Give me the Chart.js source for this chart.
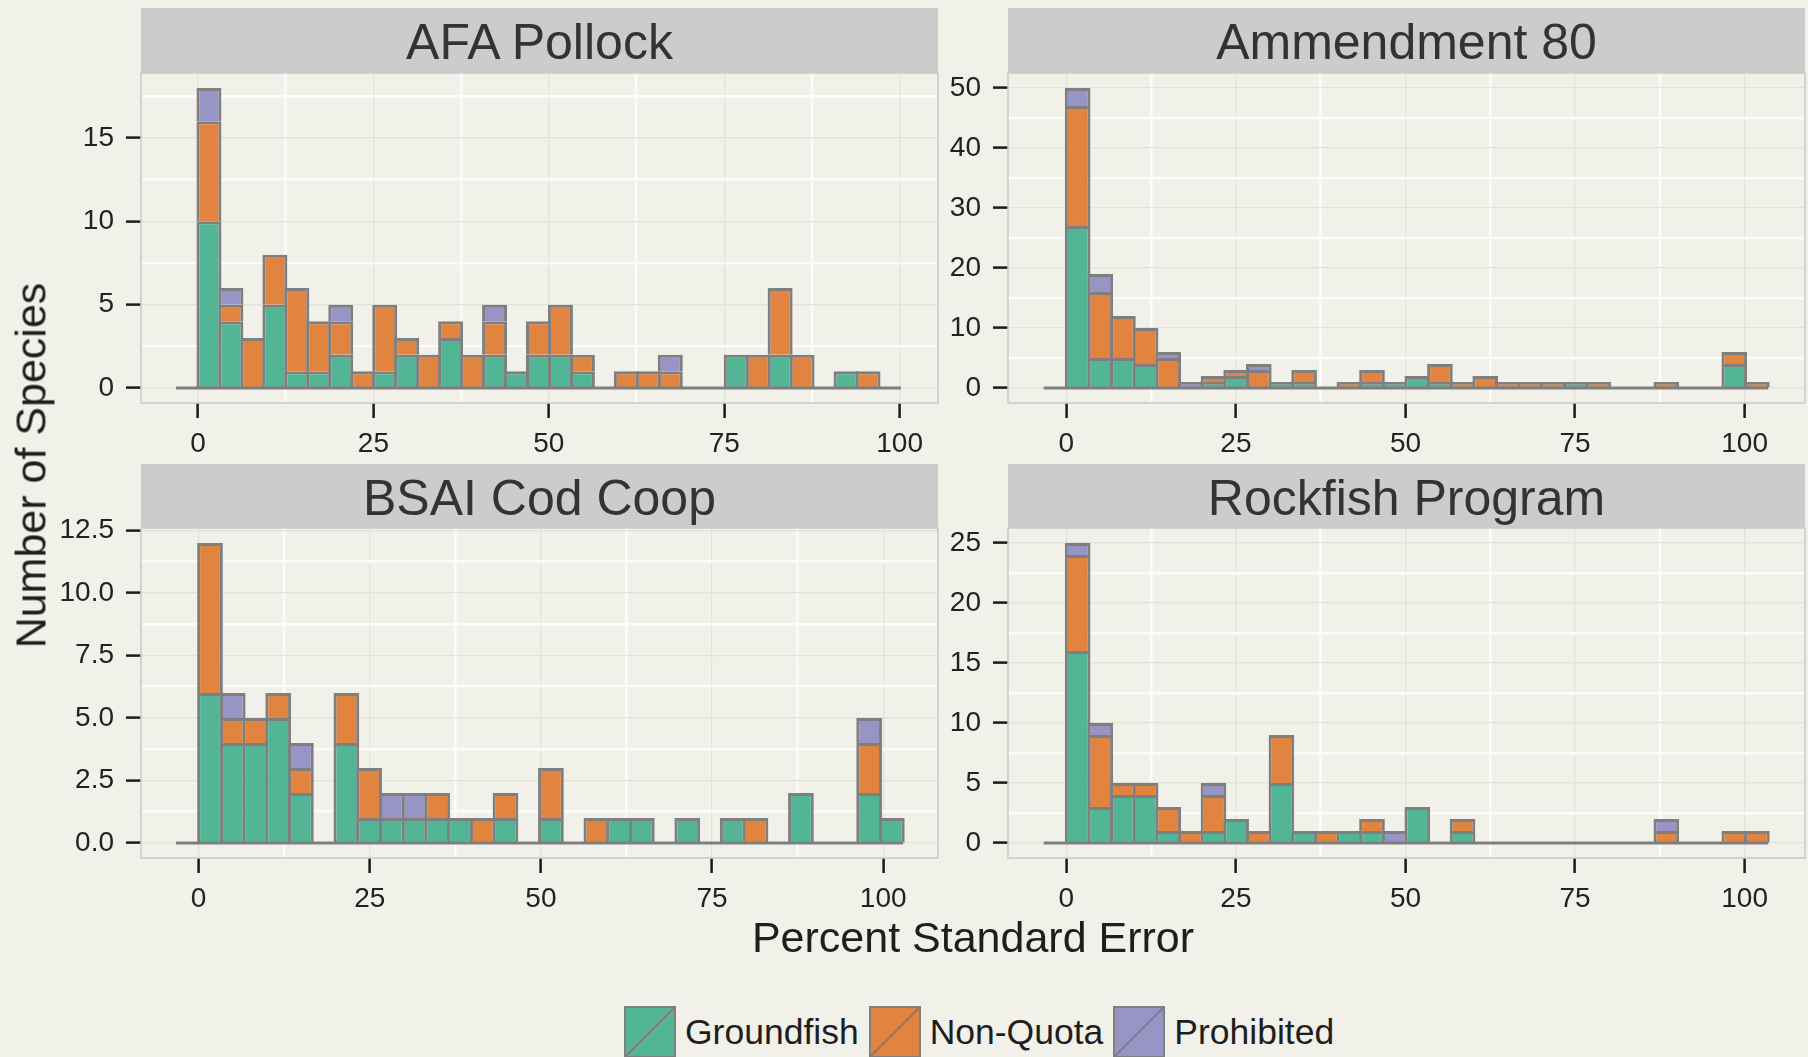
<!DOCTYPE html>
<html>
<head>
<meta charset="utf-8">
<script src="https://cdn.jsdelivr.net/npm/chart.js@4.4.1/dist/chart.umd.min.js"></script>
<style>
  html, body { margin:0; padding:0; background:#F1F0E9; width:1808px; height:1057px; overflow:hidden;
    font-family:'Liberation Sans', Arial, sans-serif; }
  canvas { position:absolute; }
  .strip { position:absolute; background:#CCCCCC; color:#333333; font-size:50px; text-align:center;
    width:797px; height:65px; line-height:69px; white-space:nowrap; }
  #xtitle { position:absolute; left:141px; width:1664px; top:916px; font-size:43px; line-height:43px;
    text-align:center; color:#1E1E1E; }
  #ytitle { position:absolute; left:-219px; top:444px; width:500px; height:43px; font-size:43px; line-height:43px;
    text-align:center; color:#1E1E1E; transform:rotate(-90deg); }
  #legend { position:absolute; left:624px; top:1006px; height:52px; display:flex; align-items:center;
    font-size:35.5px; color:#1E1E1E; white-space:nowrap; }
  .sw { width:52px; height:52px; box-sizing:border-box; border:2.5px solid #7F7F7F; margin-right:9px; flex:none; }
  .lt { margin-right:10px; }
</style>
</head>
<body>
<div class="strip" id="s0" style="left:141px; top:8px;"></div>
<div class="strip" id="s1" style="left:1008px; top:8px;"></div>
<div class="strip" id="s2" style="left:141px; top:464px; height:64px;"></div>
<div class="strip" id="s3" style="left:1008px; top:464px; height:64px;"></div>
<canvas id="c0" width="957" height="420" style="left:1px; top:43px;"></canvas>
<canvas id="c1" width="957" height="420" style="left:868px; top:43px;"></canvas>
<canvas id="c2" width="957" height="420" style="left:1px; top:498px;"></canvas>
<canvas id="c3" width="957" height="420" style="left:868px; top:498px;"></canvas>
<div id="xtitle"></div>
<div id="ytitle"></div>
<div id="legend"></div>
<script>
// ---------------- data ----------------
const categories = ['Groundfish', 'Non-Quota', 'Prohibited'];
const panelTitles = ['AFA Pollock', 'Ammendment 80', 'BSAI Cod Coop', 'Rockfish Program'];
const xAxisTitle = 'Percent Standard Error';
const yAxisTitle = 'Number of Species';
const xTickValues = [0, 25, 50, 75, 100];

// counts per histogram bin; first bin is [-binWidth, 0)
const afaBinWidth = 3.131;
const afaGroundfish = [0,10,4,0,5,1,1,2,0,1,2,0,3,0,2,1,2,2,1,0,0,0,0,0,0,2,0,2,0,0,1,0,0];
const afaNonQuota   = [0,6,1,3,3,5,3,2,1,4,1,2,1,2,2,0,2,3,1,0,1,1,1,0,0,0,2,4,2,0,0,1,0];
const afaProhibited = [0,2,1,0,0,0,0,1,0,0,0,0,0,0,1,0,0,0,0,0,0,0,1,0,0,0,0,0,0,0,0,0,0];
const afaYTicks = [0, 5, 10, 15];
const afaXRange = [-8.12, 105.47];

const am80BinWidth = 3.338;
const am80Groundfish = [0,27,5,5,4,0,0,1,2,0,1,1,0,0,1,1,2,1,0,0,0,0,0,1,0,0,0,0,0,0,4,0];
const am80NonQuota   = [0,20,11,7,6,5,0,1,1,3,0,2,0,1,2,0,0,3,1,2,1,1,1,0,1,0,0,1,0,0,2,1];
const am80Prohibited = [0,3,3,0,0,1,1,0,0,1,0,0,0,0,0,0,0,0,0,0,0,0,0,0,0,0,0,0,0,0,0,0];
const am80YTicks = [0, 10, 20, 30, 40, 50];
const am80XRange = [-8.6, 108.9];

const bsaiBinWidth = 3.32;
const bsaiGroundfish = [0,6,4,4,5,2,0,4,1,1,1,1,1,0,1,0,1,0,0,1,1,0,1,0,1,0,0,2,0,0,2,1];
const bsaiNonQuota   = [0,6,1,1,1,1,0,2,2,0,0,1,0,1,1,0,2,0,1,0,0,0,0,0,0,1,0,0,0,0,2,0];
const bsaiProhibited = [0,0,1,0,0,1,0,0,0,1,1,0,0,0,0,0,0,0,0,0,0,0,0,0,0,0,0,0,0,0,1,0];
const bsaiYTicks = [0, 2.5, 5, 7.5, 10, 12.5];
const bsaiXRange = [-8.42, 108.0];

const rockBinWidth = 3.338;
const rockGroundfish = [0,16,3,4,4,1,0,1,2,0,5,1,0,1,1,0,3,0,1,0,0,0,0,0,0,0,0,0,0,0,0,0];
const rockNonQuota   = [0,8,6,1,1,2,1,3,0,1,4,0,1,0,1,0,0,0,1,0,0,0,0,0,0,0,0,1,0,0,1,1];
const rockProhibited = [0,1,1,0,0,0,0,1,0,0,0,0,0,0,0,1,0,0,0,0,0,0,0,0,0,0,0,1,0,0,0,0];
const rockYTicks = [0, 5, 10, 15, 20, 25];
const rockXRange = [-8.6, 108.9];

// ---------------- style ----------------
const fillColors = ['#52B696', '#E0843F', '#9795C6'];
const outline = '#7F7F7F';
const strokeW = 3;
const FONT = "'Liberation Sans', Arial, sans-serif";
Chart.defaults.font.family = FONT;

function withMinor(majors, min, max) {
  const step = majors[1] - majors[0];
  const out = majors.filter(v => v >= min && v <= max);
  let m = majors[0] - step / 2;
  while (m <= max) { if (m >= min) out.push(m); m += step; }
  return out.sort((a, b) => a - b);
}
function isMajor(v, majors) { return majors.some(t => Math.abs(t - v) < 1e-6); }
function tickIsMajor(c, majors) { return !!(c && c.tick) && isMajor(c.tick.value, majors); }

const panelBorder = {
  id: 'panelBorder',
  beforeDatasetsDraw(chart) {
    const { ctx, chartArea: a } = chart;
    ctx.save();
    ctx.strokeStyle = '#CBCBCB';
    ctx.lineWidth = 1.6;
    ctx.strokeRect(a.left, a.top, a.right - a.left, a.bottom - a.top);
    ctx.restore();
  }
};

function makePanel(id, w, series, yTicks, yDec, xRange) {
  const n = series[0].length;
  const centers = series[0].map((_, i) => (i - 0.5) * w);
  const totals = centers.map((_, i) => series.reduce((s, arr) => s + arr[i], 0));
  const ymax = Math.max(...totals);
  const datasets = categories.map((c, j) => ({
    type: 'bar', label: c, stack: 'species',
    data: series[j].map((v, i) => ({ x: centers[i], y: v })),
    backgroundColor: fillColors[j], borderColor: outline, borderWidth: strokeW,
    borderSkipped: 'start', inflateAmount: 0, barPercentage: 1, categoryPercentage: 1
  }));
  datasets.push({
    type: 'line', label: 'base', stack: 'base', order: -1,
    data: [{ x: centers[0] - w / 2, y: 0 }, { x: centers[n - 1] + w / 2, y: 0 }],
    borderColor: outline, borderWidth: strokeW, pointRadius: 0, fill: false
  });
  const tickFont = { family: FONT, size: 28 };
  const gridOpts = majors => ({
    offset: false,
    color: c => tickIsMajor(c, majors) ? '#E2E1DA' : '#FCFCFA',
    lineWidth: c => tickIsMajor(c, majors) ? 1.2 : 2.6,
    tickColor: c => tickIsMajor(c, majors) ? '#1A1A1A' : 'rgba(0,0,0,0)',
    tickWidth: 2.5, tickLength: 15, drawTicks: true, drawOnChartArea: true
  });
  const chart = new Chart(document.getElementById(id), {
    data: { datasets },
    plugins: [panelBorder],
    options: {
      responsive: false, animation: false, events: [],
      layout: { padding: { top: 30, right: 20, left: 0, bottom: 0 } },
      plugins: { legend: { display: false }, tooltip: { enabled: false } },
      scales: {
        x: {
          type: 'linear', min: xRange[0], max: xRange[1], stacked: true, offset: false,
          afterBuildTicks: s => { s.ticks = withMinor(xTickValues, s.min, s.max).map(v => ({ value: v })); },
          afterFit: s => { s.height = 60; },
          ticks: { autoSkip: false, maxRotation: 0, padding: 9, font: tickFont, color: '#222222',
            callback: v => isMajor(v, xTickValues) ? String(v) : '' },
          grid: gridOpts(xTickValues), border: { display: false }
        },
        y: {
          type: 'linear', min: -0.05 * ymax, max: 1.05 * ymax, stacked: true, offset: false,
          afterBuildTicks: s => { s.ticks = withMinor(yTicks, s.min, s.max).map(v => ({ value: v })); },
          afterFit: s => { s.width = 140; },
          ticks: { autoSkip: false, padding: 12, font: tickFont, color: '#222222',
            callback: v => isMajor(v, yTicks) ? v.toFixed(yDec) : '' },
          grid: gridOpts(yTicks), border: { display: false }
        }
      }
    }
  });
  const xs = chart.scales.x;
  const px = Math.abs(xs.getPixelForValue(w) - xs.getPixelForValue(0));
  chart.data.datasets.forEach(d => { if (d.type === 'bar') d.barThickness = px + strokeW; });
  chart.update('none');
  return chart;
}

panelTitles.forEach((t, i) => { document.getElementById('s' + i).textContent = t; });
document.getElementById('xtitle').textContent = xAxisTitle;
document.getElementById('ytitle').textContent = yAxisTitle;
const legend = document.getElementById('legend');
categories.forEach((c, j) => {
  const sw = document.createElement('div');
  sw.className = 'sw';
  const col = fillColors[j];
  sw.style.background = `linear-gradient(to bottom right, ${col} 0, ${col} calc(50% - 1.3px), ${outline} calc(50% - 1.3px), ${outline} calc(50% + 1.3px), ${col} calc(50% + 1.3px), ${col} 100%)`;
  const lt = document.createElement('span');
  lt.className = 'lt';
  lt.textContent = c;
  legend.appendChild(sw);
  legend.appendChild(lt);
});

makePanel('c0', afaBinWidth, [afaGroundfish, afaNonQuota, afaProhibited], afaYTicks, 0, afaXRange);
makePanel('c1', am80BinWidth, [am80Groundfish, am80NonQuota, am80Prohibited], am80YTicks, 0, am80XRange);
makePanel('c2', bsaiBinWidth, [bsaiGroundfish, bsaiNonQuota, bsaiProhibited], bsaiYTicks, 1, bsaiXRange);
makePanel('c3', rockBinWidth, [rockGroundfish, rockNonQuota, rockProhibited], rockYTicks, 0, rockXRange);
</script>
</body>
</html>
